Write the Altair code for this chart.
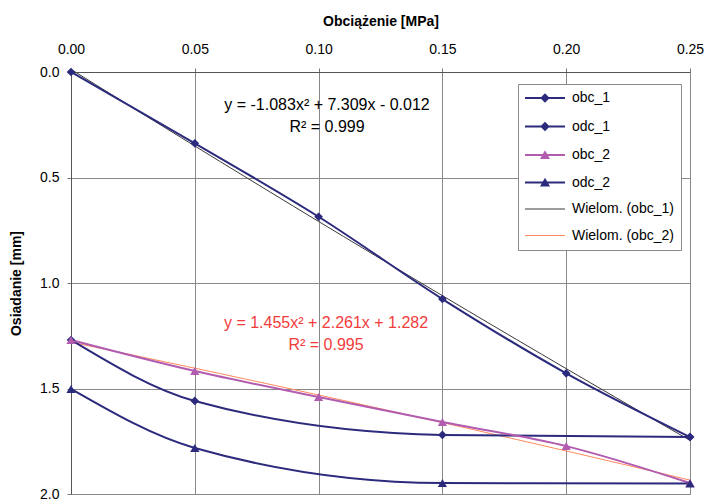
import altair as alt
import pandas as pd

# ---- data ----
x_obc = [0.00, 0.05, 0.10, 0.15, 0.20, 0.25]
obc_1 = [0.000, 0.338, 0.686, 1.076, 1.428, 1.730]
obc_2 = [1.270, 1.417, 1.540, 1.659, 1.773, 1.948]
x_odc = [0.25, 0.15, 0.05, 0.00]
odc_1 = [1.730, 1.720, 1.559, 1.270]
odc_2 = [1.950, 1.948, 1.782, 1.502]

series_names = ["obc_1", "odc_1", "obc_2", "odc_2", "Wielom. (obc_1)", "Wielom. (obc_2)"]
eq_text = ["y = -1.083x² + 7.309x - 0.012", "R² = 0.999",
           "y = 1.455x² + 2.261x + 1.282", "R² = 0.995"]
eq_x = [0.1034, 0.1034, 0.1030, 0.1030]
eq_y = [0.156, 0.261, 1.190, 1.294]
eq_grp = ["t1", "t1", "t2", "t2"]

rows = []
for x, y in zip(x_obc, obc_1):
    rows.append({"x": x, "y": y, "series": "obc_1"})
for x, y in zip(x_odc, odc_1):
    rows.append({"x": x, "y": y, "series": "odc_1"})
for x, y in zip(x_obc, obc_2):
    rows.append({"x": x, "y": y, "series": "obc_2"})
for x, y in zip(x_odc, odc_2):
    rows.append({"x": x, "y": y, "series": "odc_2"})
df = pd.DataFrame(rows)
eq_df = pd.DataFrame({"x": eq_x, "y": eq_y, "text": eq_text, "grp": eq_grp})

NAVY = "#2B2A7C"
PURPLE = "#B25CB0"
TREND1 = "#3A3A3A"
TREND2 = "#FF8A5C"
colors = [NAVY, NAVY, PURPLE, NAVY, TREND1, TREND2]
col = dict(zip(series_names, colors))
marker = {"obc_1": ("diamond", 75), "odc_1": ("diamond", 75),
          "obc_2": ("triangle-up", 85), "odc_2": ("triangle-up", 85)}

FONT = "Liberation Sans"

xenc = alt.X("x:Q", scale=alt.Scale(domain=[0, 0.25], nice=False),
             axis=alt.Axis(orient="top", values=x_obc, format=".2f",
                           title="Obciążenie [MPa]", titleFontSize=14, titleFont=FONT,
                           titleFontWeight="bold", titleColor="black", titlePadding=14,
                           labelFont=FONT, labelFontSize=14, labelColor="black",
                           labelPadding=12, tickSize=4, tickColor="#777",
                           domainColor="#555", gridColor="#888", labelFlush=False))
yenc = alt.Y("y:Q", scale=alt.Scale(domain=[0, 2], reverse=True, nice=False),
             axis=alt.Axis(values=[0, 0.5, 1.0, 1.5, 2.0], format=".1f",
                           title="Osiadanie [mm]", titleFontSize=14, titleFont=FONT,
                           titleFontWeight="bold", titleColor="black", titlePadding=16,
                           labelFont=FONT, labelFontSize=14, labelColor="black",
                           labelPadding=8, tickSize=4, tickColor="#777",
                           domainColor="#555", gridColor="#888", labelFlush=False))

base = alt.Chart(df)
layers = []

# trend lines (2nd-order polynomial fits computed by Vega's regression transform)
for src, name in [("obc_1", "Wielom. (obc_1)"), ("obc_2", "Wielom. (obc_2)")]:
    layers.append(
        base.transform_filter(alt.datum.series == src)
        .transform_regression("x", "y", method="poly", order=2, extent=[0, 0.25])
        .mark_line(strokeWidth=1, color=col[name])
        .encode(x=xenc, y=yenc)
    )

# series lines (smoothed) and markers
for name in ["obc_1", "odc_1", "obc_2", "odc_2"]:
    sub = base.transform_filter(alt.datum.series == name)
    layers.append(sub.mark_line(interpolate="monotone", strokeWidth=2, color=col[name])
                  .encode(x="x:Q", y="y:Q"))
for name in ["obc_1", "odc_1", "obc_2", "odc_2"]:
    shp, sz = marker[name]
    sub = base.transform_filter(alt.datum.series == name)
    layers.append(sub.mark_point(shape=shp, filled=True, size=sz, opacity=1, color=col[name])
                  .encode(x="x:Q", y="y:Q"))

eq_base = alt.Chart(eq_df)
layers.append(eq_base.transform_filter(alt.datum.grp == "t1").mark_text(
    font=FONT, fontSize=16, align="center", baseline="middle", color="black"
).encode(x="x:Q", y="y:Q", text="text:N"))
layers.append(eq_base.transform_filter(alt.datum.grp == "t2").mark_text(
    font=FONT, fontSize=16, align="center", baseline="middle", color="#F23B3B"
).encode(x="x:Q", y="y:Q", text="text:N"))

# legend symbols: thin bar + marker, drawn by the legend itself
L0, L1 = -1.4, 6.6
def bar(h):
    return f"M{L0},{-h}L{L1},{-h}L{L1},{h}L{L0},{h}Z"
dia = "M2.6,-0.95L3.55,0L2.6,0.95L1.65,0Z"
tri = "M2.6,-0.95L3.6,0.8L1.6,0.8Z"
shape_paths = [bar(0.2) + dia, bar(0.2) + dia, bar(0.2) + tri, bar(0.2) + tri,
               bar(0.1), bar(0.1)]

leg = dict(title=None, orient="none", legendX=447, legendY=12,
           fillColor="white", strokeColor="#888", padding=7,
           labelFont=FONT, labelFontSize=14, labelColor="black",
           labelOffset=33, rowPadding=12.5, symbolOpacity=1, labelLimit=300)

legend_layer = base.transform_filter("false").mark_point(
    filled=True, size=100, opacity=1, strokeWidth=0
).encode(
    x="x:Q", y="y:Q",
    color=alt.Color("series:N", scale=alt.Scale(domain=series_names, range=colors),
                    legend=alt.Legend(**leg)),
    shape=alt.Shape("series:N", scale=alt.Scale(domain=series_names, range=shape_paths),
                    legend=alt.Legend(**leg)),
)
layers.append(legend_layer)

chart = alt.layer(*layers).properties(
    width=619, height=422,
    autosize=alt.AutoSizeParams(type="none"),
    padding={"left": 63, "top": 64, "right": 14, "bottom": 8},
).configure_view(stroke="#888", strokeWidth=1).configure(background="white")

chart.save("out.html", embed_options={"renderer": "svg", "actions": False})
